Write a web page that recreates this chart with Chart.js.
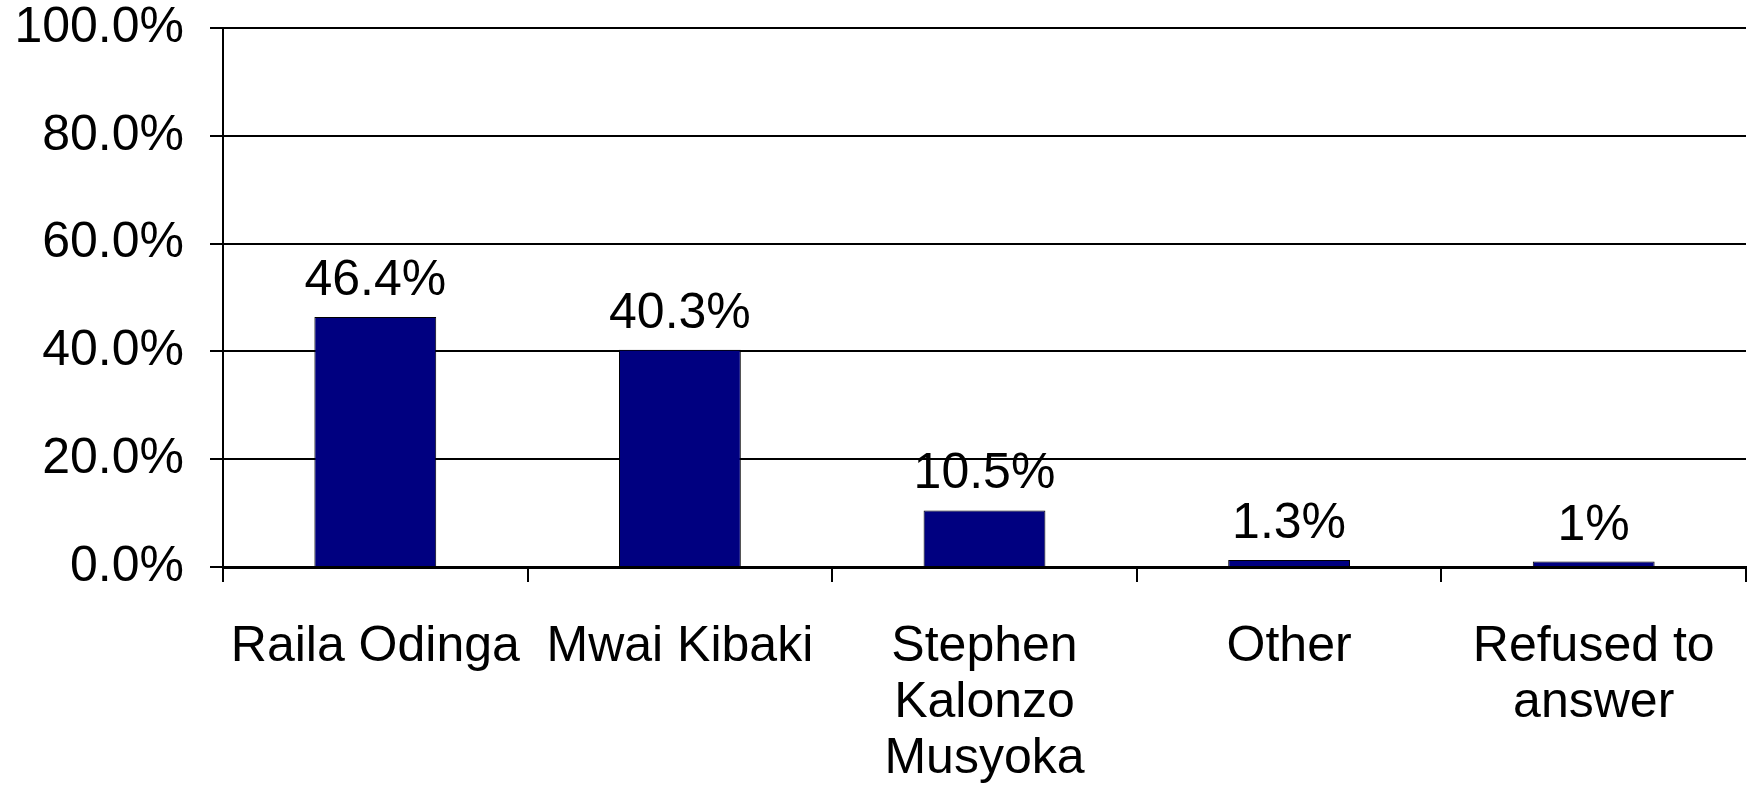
<!DOCTYPE html>
<html>
<head>
<meta charset="utf-8">
<script src="https://cdn.jsdelivr.net/npm/chart.js@4/dist/chart.umd.min.js"></script>
<style>
  html, body { margin: 0; padding: 0; background: #fff; }
  #wrap { width: 1748px; height: 785px; }
</style>
</head>
<body>
<div id="wrap"><canvas id="pollChart"></canvas></div>
<script>
const categories = [
    'Raila Odinga',
    'Mwai Kibaki',
    ['Stephen', 'Kalonzo', 'Musyoka'],
    'Other',
    ['Refused to', 'answer']
];
const shares = [46.4, 40.3, 10.5, 1.3, 1.0];
const shareLabels = ['46.4%', '40.3%', '10.5%', '1.3%', '1%'];
const yTicks = [0, 20, 40, 60, 80, 100];

const FONT = '"Liberation Sans", Arial, Helvetica, sans-serif';

// draw the value above each bar
const valueLabels = {
    id: 'valueLabels',
    afterDatasetsDraw(chart) {
        const ctx = chart.ctx;
        const meta = chart.getDatasetMeta(0);
        ctx.save();
        ctx.font = '50px ' + FONT;
        ctx.fillStyle = '#000';
        ctx.textAlign = 'center';
        ctx.textBaseline = 'alphabetic';
        meta.data.forEach((bar, i) => {
            ctx.fillText(shareLabels[i], bar.x, bar.y - 22);
        });
        ctx.restore();
    }
};

new Chart(document.getElementById('pollChart'), {
    type: 'bar',
    data: {
        labels: categories,
        datasets: [{
            data: shares,
            backgroundColor: '#000080',
            borderColor: '#000000',
            borderWidth: 1,
            barPercentage: 0.4,
            categoryPercentage: 1.0
        }]
    },
    options: {
        responsive: true,
        maintainAspectRatio: false,
        animation: false,
        layout: { padding: { top: 28, right: 2, left: 0, bottom: 0 } },
        plugins: {
            legend: { display: false },
            tooltip: { enabled: false }
        },
        scales: {
            x: {
                grid: {
                    offset: true,
                    drawOnChartArea: false,
                    drawTicks: true,
                    tickLength: 15,
                    color: '#000',
                    lineWidth: 2
                },
                border: { display: true, color: '#000', width: 3 },
                ticks: {
                    color: '#000',
                    font: { family: FONT, size: 50, lineHeight: 1.12 },
                    padding: 37,
                    maxRotation: 0,
                    autoSkip: false
                },
                afterFit(scale) {
                    scale.height = 218;
                    scale.paddingLeft = 0;
                    scale.paddingRight = 0;
                }
            },
            y: {
                min: 0,
                max: 100,
                afterBuildTicks(scale) {
                    scale.ticks = yTicks.map(v => ({ value: v }));
                },
                grid: {
                    color: '#000',
                    lineWidth: 2,
                    drawTicks: true,
                    tickLength: 13
                },
                border: { display: true, color: '#000', width: 2 },
                ticks: {
                    color: '#000',
                    font: { family: FONT, size: 50 },
                    padding: 26,
                    callback: v => v.toFixed(1) + '%'
                },
                afterFit(scale) {
                    scale.width = 223;
                    scale.paddingTop = 0;
                    scale.paddingBottom = 0;
                }
            }
        }
    },
    plugins: [valueLabels]
});
</script>
</body>
</html>
